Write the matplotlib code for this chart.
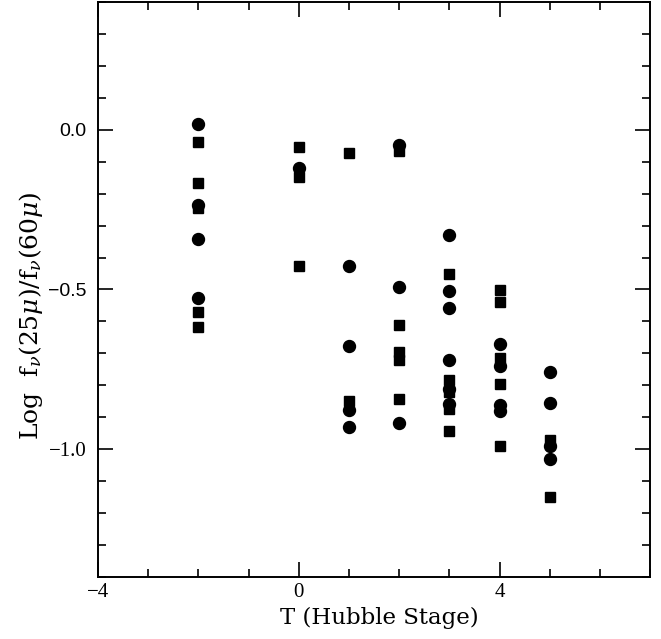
import matplotlib
matplotlib.use("Agg")
import matplotlib.pyplot as plt
from matplotlib.ticker import MultipleLocator

plt.rcParams["font.family"] = "Liberation Serif"
plt.rcParams["mathtext.fontset"] = "dejavuserif"

# Hubble stage T and log flux ratio, circles
circle_t = [-2, -2, -2, -2, 0, 1, 1, 1, 1, 2, 2, 2,
            3, 3, 3, 3, 3, 3, 4, 4, 4, 4, 5, 5, 5, 5]
circle_r = [0.018, -0.236, -0.342, -0.526, -0.12, -0.427, -0.677, -0.878, -0.932,
            -0.048, -0.493, -0.918,
            -0.331, -0.505, -0.557, -0.72, -0.81, -0.857,
            -0.672, -0.74, -0.862, -0.881,
            -0.758, -0.854, -0.99, -1.031]

# squares
square_t = [-2, -2, -2, -2, -2, 0, 0, 0, 1, 1, 2, 2, 2, 2, 2,
            3, 3, 3, 3, 3, 4, 4, 4, 4, 4, 5, 5]
square_r = [-0.037, -0.168, -0.245, -0.572, -0.616,
            -0.055, -0.147, -0.427,
            -0.073, -0.849,
            -0.068, -0.612, -0.697, -0.72, -0.843,
            -0.451, -0.783, -0.82, -0.873, -0.943,
            -0.503, -0.54, -0.713, -0.795, -0.99,
            -0.972, -1.149]

fig = plt.figure(figsize=(6.61, 6.39), dpi=100)
ax = fig.add_axes([0.148, 0.097, 0.836, 0.900])

ax.plot(square_t, square_r, "s", color="black", markersize=6.8, linestyle="none")
ax.plot(circle_t, circle_r, "o", color="black", markersize=8.6, linestyle="none")

ax.set_xlim(-4, 7)
ax.set_ylim(-1.4, 0.4)
ax.xaxis.set_major_locator(MultipleLocator(4))
ax.xaxis.set_minor_locator(MultipleLocator(1))
ax.yaxis.set_major_locator(MultipleLocator(0.5))
ax.yaxis.set_minor_locator(MultipleLocator(0.1))
ax.set_xticks([-4, 0, 4])
ax.set_xticklabels(["\u22124", "0", "4"])
ax.set_yticks([-1.0, -0.5, 0.0])
ax.set_yticklabels(["\u22121.0", "\u22120.5", "0.0"])

ax.tick_params(which="both", direction="in", top=True, right=True,
               width=1.2, labelsize=15, pad=8)
ax.tick_params(axis="x", which="both", pad=4)
ax.tick_params(which="major", length=11)
ax.tick_params(which="minor", length=6)
for lab in ax.get_yticklabels()[1:]:
    lab.set_fontfamily("Liberation Sans")
    lab.set_fontsize(14)
for sp in ax.spines.values():
    sp.set_linewidth(1.4)

ax.set_xlabel("T (Hubble Stage)", fontsize=16.5, family="DejaVu Serif", labelpad=4)
ax.set_ylabel(r"Log  f$_{\nu}$(25$\mu$)/f$_{\nu}$(60$\mu$)", fontsize=18,
              family="DejaVu Serif", labelpad=2)
ax.xaxis.label.set_x(0.51)
ax.yaxis.label.set_y(0.455)

fig.savefig("out.png", dpi=100)
